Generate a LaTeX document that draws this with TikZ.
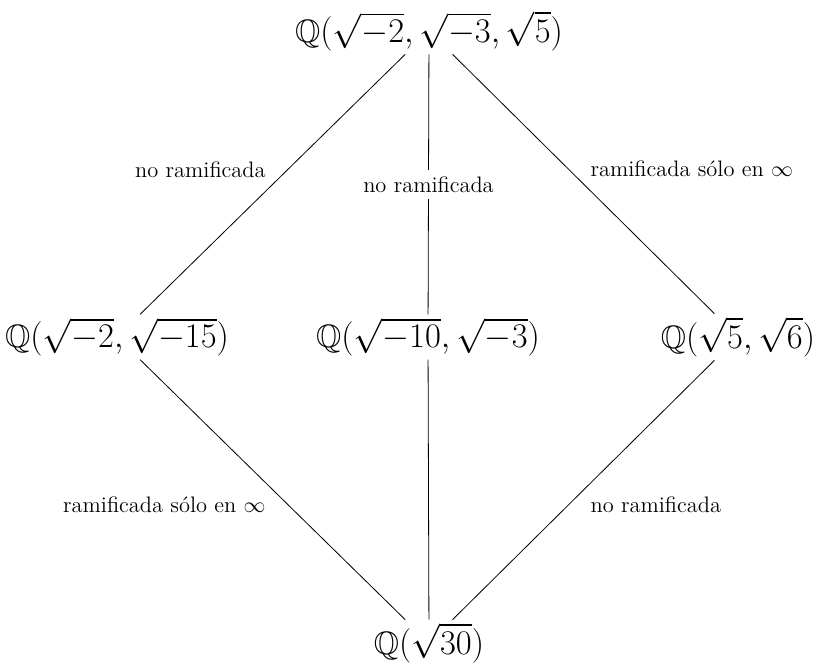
\documentclass[tikz,border=0pt]{standalone}
\usepackage{amssymb}
\begin{document}
\begin{tikzpicture}[x=0.5pt,y=-0.5pt,
  field/.style={font=\fontsize{16.2}{19}\selectfont, inner sep=1.5pt},
  lab/.style={font=\fontsize{11.2}{13}\selectfont},
  conn/.style={draw=black, line width=0.4pt}]
\useasboundingbox (0,0) rectangle (815,669);
\node[field] (t) at (429,31) {$\mathbb{Q}(\sqrt{-2},\sqrt{-3},\sqrt{5})$};
\node[field] (l) at (117,337) {$\mathbb{Q}(\sqrt{-2},\sqrt{-15})$};
\node[field] (m) at (428,337) {$\mathbb{Q}(\sqrt{-10},\sqrt{-3})$};
\node[field] (r) at (738,337) {$\mathbb{Q}(\sqrt{5},\sqrt{6})$};
\node[field] (b) at (429,643) {$\mathbb{Q}(\sqrt{30})$};
\draw[conn] (t) -- node[lab, midway, above left] {no ramificada} (l);
\draw[conn] (t) -- node[lab, midway, fill=white] {no ramificada} (m);
\draw[conn] (t) -- node[lab, midway, above right] {ramificada sólo en $\infty$} (r);
\draw[conn] (l) -- node[lab, midway, below left] {ramificada sólo en $\infty$} (b);
\draw[conn] (m) -- (b);
\draw[conn] (r) -- node[lab, midway, below right] {no ramificada} (b);
\end{tikzpicture}
\end{document}
